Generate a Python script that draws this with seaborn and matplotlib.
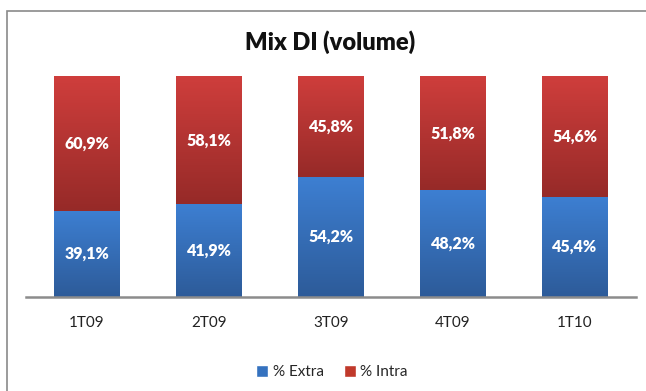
import numpy as np
import pandas as pd
import matplotlib
matplotlib.use("Agg")
import matplotlib.pyplot as plt
import seaborn as sns
from matplotlib.colors import LinearSegmentedColormap
from matplotlib.patches import Rectangle, Patch

quarters = ["1T09", "2T09", "3T09", "4T09", "1T10"]
extra = [39.1, 41.9, 54.2, 48.2, 45.4]
intra = [60.9, 58.1, 45.8, 51.8, 54.6]

sns.set_theme(style="white")
plt.rcParams["font.family"] = ["Lato", "DejaVu Sans"]

df = pd.DataFrame({"quarter": quarters, "extra": extra, "intra": intra})
df["total"] = df["extra"] + df["intra"]

fig = plt.figure(figsize=(6.46, 3.91), dpi=100)
ax = fig.add_axes([26 / 646, 94 / 391, 610 / 646, 221 / 391])

# full bar (red) then blue part on top of it
sns.barplot(data=df, x="quarter", y="total", color="#c0392b", width=0.535,
            saturation=1, ax=ax)
sns.barplot(data=df, x="quarter", y="extra", color="#3572bf", width=0.535,
            saturation=1, ax=ax)

blue_cm = LinearSegmentedColormap.from_list("b", ["#2d5b99", "#3d7fd2"])
red_cm = LinearSegmentedColormap.from_list("r", ["#962a28", "#cf3e3c"])
grad = np.linspace(0, 1, 256).reshape(-1, 1)

n = len(quarters)
for i, p in enumerate(ax.patches):
    x0, y0 = p.get_x(), p.get_y()
    w, h = p.get_width(), p.get_height()
    if i < n:
        # red covers the intra part only
        y0 = extra[i]
        h = intra[i]
        cm = red_cm
    else:
        cm = blue_cm
    p.set_visible(False)
    r = Rectangle((x0, y0), w, h, transform=ax.transData)
    im = ax.imshow(grad, cmap=cm, origin="lower", aspect="auto",
                   extent=[x0, x0 + w, y0, y0 + h], zorder=2)
    im.set_clip_path(r)
    cx = x0 + w / 2
    if i < n:
        ax.text(cx, y0 + h / 2, f"{intra[i]:.1f}%".replace(".", ","),
                ha="center", va="center", color="white", fontsize=11.5,
                fontweight="heavy", zorder=3)
    else:
        ax.text(cx, h / 2, f"{extra[i - n]:.1f}%".replace(".", ","),
                ha="center", va="center", color="white", fontsize=11.5,
                fontweight="heavy", zorder=3)

ax.set_xlim(-0.5, n - 0.5)
ax.set_ylim(0, 100)
ax.set_xlabel("")
ax.set_ylabel("")
ax.set_yticks([])
ax.tick_params(axis="x", length=0, pad=14, labelsize=11, colors="#222222")
for s in ["top", "right", "left"]:
    ax.spines[s].set_visible(False)
ax.spines["bottom"].set_color("#8c8c8c")
ax.spines["bottom"].set_linewidth(1.8)

fig.text(330 / 646, 1 - 42 / 391, "Mix DI (volume)", ha="center", va="center",
         fontsize=17, fontweight="heavy", color="#111111")

handles = [Patch(facecolor="#3572bf", label="% Extra"),
           Patch(facecolor="#c0392b", label="% Intra")]
fig.legend(handles=handles, loc="center", bbox_to_anchor=(332 / 646, 1 - 372 / 391),
           ncol=2, frameon=False, fontsize=11, handlelength=0.8, handleheight=0.8,
           handletextpad=0.3, columnspacing=1.3)

fig.patches.append(Rectangle((7 / 646, -0.1), 1.2, 1 - 11 / 391 + 0.1,
                             transform=fig.transFigure, fill=False,
                             edgecolor="#8a8a8a", linewidth=1.2))

fig.savefig("out.png", dpi=100)
